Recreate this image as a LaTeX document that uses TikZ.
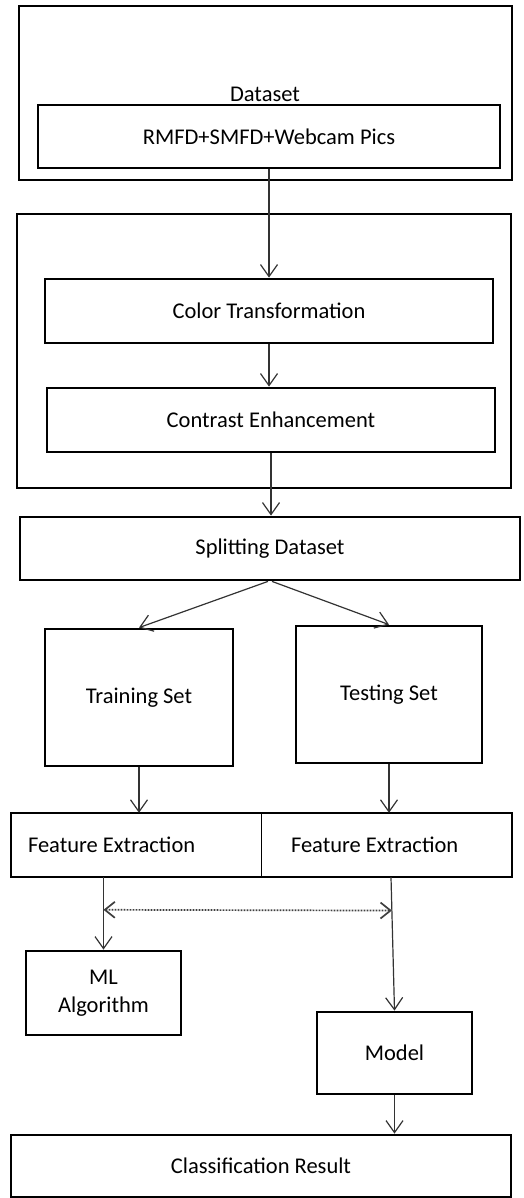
\documentclass[tikz,border=0pt]{standalone}
\usepackage{fontspec}
\setmainfont{Carlito}
\usetikzlibrary{arrows.meta}
\tikzset{blk/.style = {draw, line width = 2.8pt, inner sep = 0, align = center, font = \fontsize{22.5}{28}\selectfont}}
\tikzset{half/.style = {inner sep = 0, minimum height = 64, align = flush left, font = \fontsize{22.5}{28}\selectfont}}
\tikzset{flow/.style = {draw = black!80, line width = 1.2pt, -{Straight Barb[length = 12pt, width = 17pt]}}}
\tikzset{link/.style = {draw = black!75, line width = 1.7pt, dash pattern = on 1.6pt off 1.4pt, {Straight Barb[length = 10pt, width = 16pt]}-{Straight Barb[length = 10pt, width = 16pt]}}}

\begin{document}
\begin{tikzpicture}[x = 1pt, y = -1pt]
    \useasboundingbox (0,0) rectangle (524,1198);
    % dataset
    \node [blk, minimum width = 493, minimum height = 174] (data) at (265.5,93) {};
    \node [blk, minimum width = 462, minimum height = 63] (pics) at (269,136.5) {RMFD+SMFD+Webcam Pics};
    \node [font = \fontsize{22.5}{28}\selectfont, inner sep = 0] (datalbl) at (265,94) {Dataset};
    % preprocessing
    \node [blk, minimum width = 494, minimum height = 274] (prep) at (264,351) {};
    \node [blk, minimum width = 448, minimum height = 64] (color) at (269,311) {Color Transformation};
    \node [blk, minimum width = 448, minimum height = 64] (contrast) at (271,420) {Contrast Enhancement};
    \node [blk, minimum width = 500, minimum height = 63] (split) at (270,548.5) {Splitting Dataset};
    \node [blk, minimum width = 188, minimum height = 137] (train) at (139,697.5) {Training Set};
    \node [blk, minimum width = 186, minimum height = 137] (test) at (389,694.5) {Testing Set};
    % feature extraction, one box split in two
    \node [blk, minimum width = 501, minimum height = 64] (feat) at (261.5,845) {};
    \node [half, minimum width = 250, text width = 216] (featl) at (136,845) {Feature Extraction};
    \node [half, minimum width = 251, text width = 191] (featr) at (386.5,845) {Feature Extraction};
    \draw [line width = 1pt] (featl.north east) -- (featl.south east);
    \node [blk, minimum width = 155, minimum height = 84] (ml) at (103.5,993) {ML\\Algorithm};
    \node [blk, minimum width = 155, minimum height = 82] (model) at (394.5,1053) {Model};
    \node [blk, minimum width = 500, minimum height = 62] (result) at (261,1166) {Classification Result};

    \draw [flow] (pics.south) -- (color.north);
    \draw [flow] (color.south) -- (color.south |- contrast.north);
    \draw [flow] (contrast.south) -- (contrast.south |- split.north);
    \draw [flow] ([xshift = -2]split.south) -- (train.north);
    \draw [flow] ([xshift = 2]split.south) -- (test.north);
    \draw [flow] (train.south) -- (train.south |- featl.north);
    \draw [flow] (test.south) -- (test.south |- featr.north);
    \draw [flow] (ml.north |- featl.south) -- (ml.north) coordinate [pos = 0.45] (mlin);
    \draw [flow] ([xshift = 4.5]featr.south) -- (model.north) coordinate [pos = 0.25] (modelin);
    \draw [flow] (model.south) -- (model.south |- result.north);
    \draw [link] (mlin) -- (modelin);
\end{tikzpicture}
\end{document}
